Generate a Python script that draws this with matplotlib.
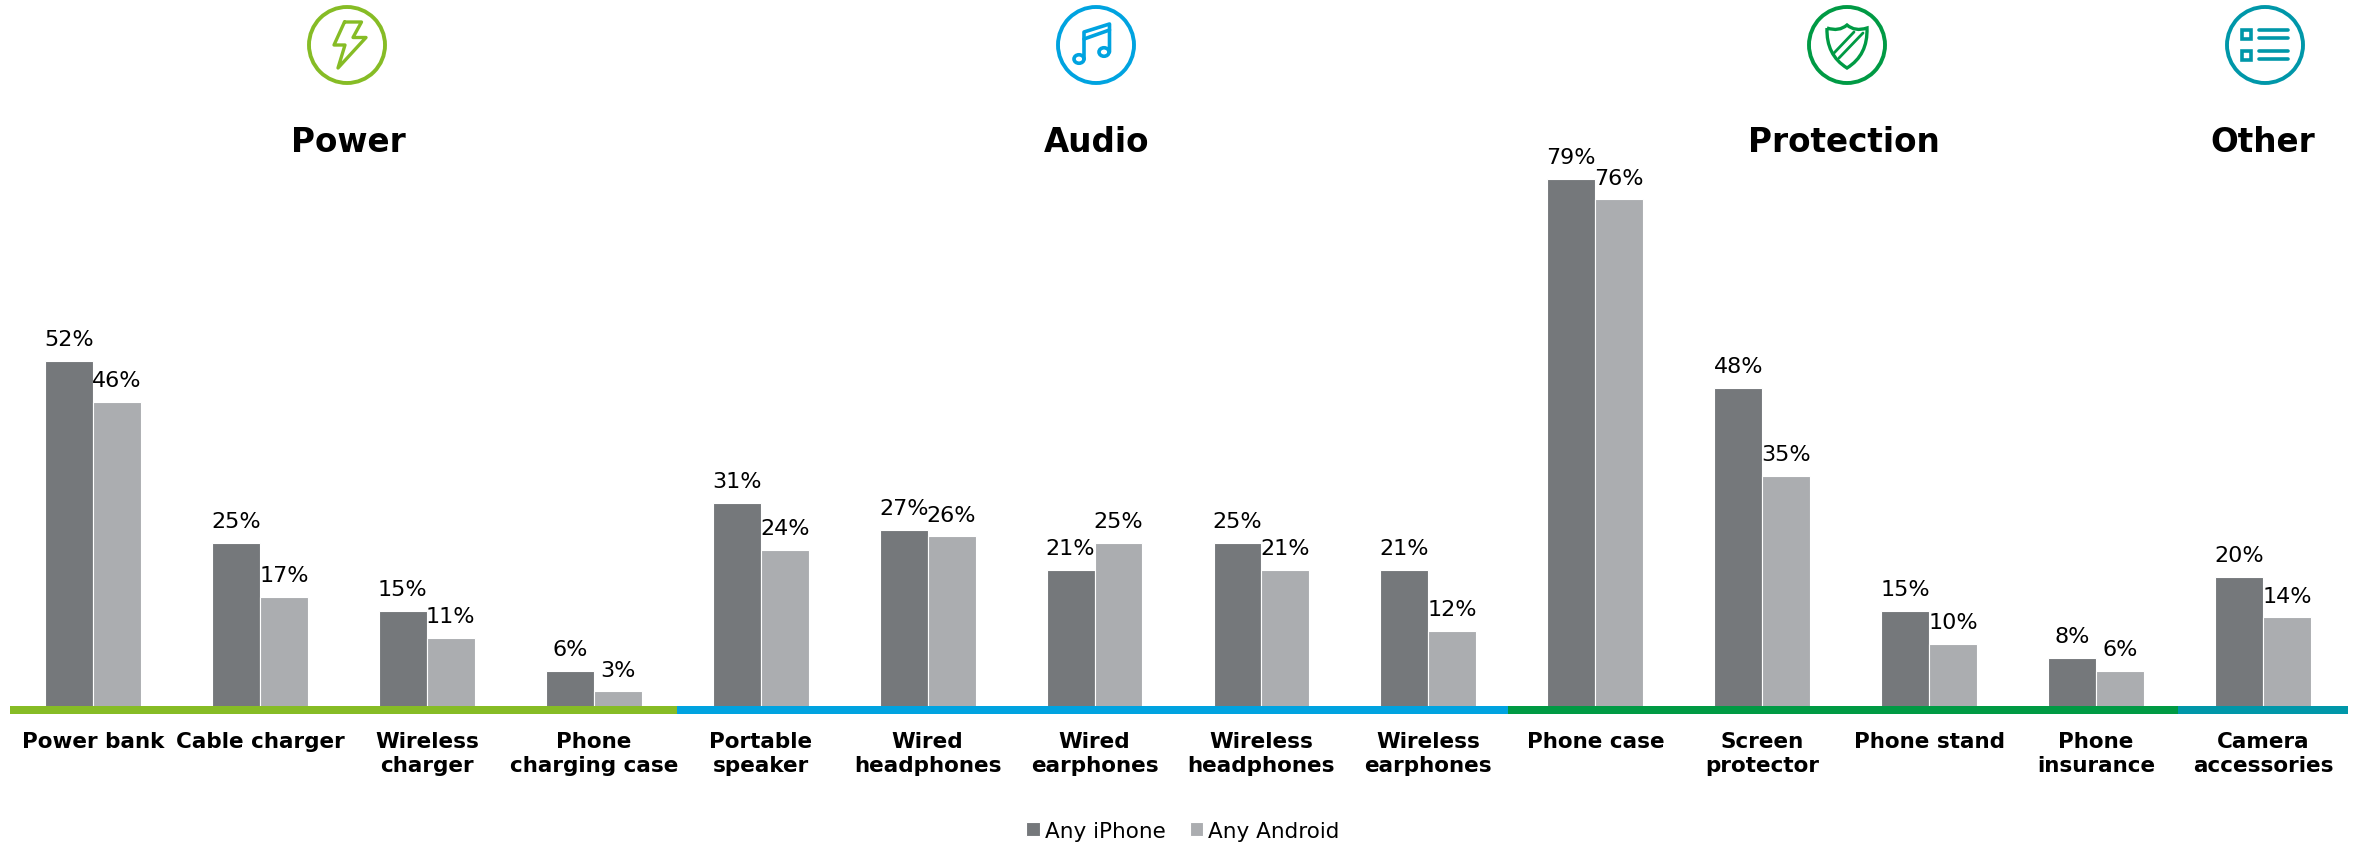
import numpy as np
import matplotlib
matplotlib.use("Agg")
import matplotlib.pyplot as plt
from matplotlib.patches import Circle, Ellipse, PathPatch, Rectangle
from matplotlib.path import Path

W, H = 2354, 845

categories = ["Power bank", "Cable charger", "Wireless\ncharger", "Phone\ncharging case",
              "Portable\nspeaker", "Wired\nheadphones", "Wired\nearphones",
              "Wireless\nheadphones", "Wireless\nearphones", "Phone case",
              "Screen\nprotector", "Phone stand", "Phone\ninsurance", "Camera\naccessories"]
iphone = [52, 25, 15, 6, 31, 27, 21, 25, 21, 79, 48, 15, 8, 20]
android = [46, 17, 11, 3, 24, 26, 25, 21, 12, 76, 35, 10, 6, 14]

groups = ["Power", "Audio", "Protection", "Other"]
group_colors = ["#86BC25", "#00A3E0", "#009A44", "#0097A9"]
band_edges = [10, 677, 1508, 2178, 2348]
icon_x = [347, 1096, 1847, 2265]
title_x = [348, 1097, 1844, 2263]

DARK = "#75787B"
LIGHT = "#ABADB0"

fig = plt.figure(figsize=(W / 100, H / 100), dpi=100)

# zero sits in the middle of the coloured band, which is painted over the bar feet
zero_y = 712.7
ax = fig.add_axes([9.5 / W, (H - zero_y) / H, 2337 / W, zero_y / H])
x = np.arange(len(categories))
bw = 0.287
b1 = ax.bar(x - bw / 2, iphone, bw, color=DARK, edgecolor="white", linewidth=0.8, label="Any iPhone")
b2 = ax.bar(x + bw / 2, android, bw, color=LIGHT, edgecolor="white", linewidth=0.8, label="Any Android")
ax.set_xlim(-0.5, len(categories) - 0.5)
ax.set_ylim(0, zero_y / 6.74)
for s in ax.spines.values():
    s.set_visible(False)
ax.set_yticks([])
ax.set_xticks(x)
ax.set_xticklabels(categories, fontsize=15.5, fontweight="bold", linespacing=1.27)
ax.tick_params(axis="x", length=0, pad=14)

for rects in (b1, b2):
    ax.bar_label(rects, fmt="%d%%", padding=8.5, fontsize=16, color="black")

leg = ax.legend(loc="lower center", bbox_to_anchor=(1183 / W, -0.009), bbox_transform=fig.transFigure,
                ncol=2, frameon=False, fontsize=15.5, handlelength=0.62, handleheight=0.62,
                handletextpad=0.25, columnspacing=1.1, borderpad=0.0)

# overlay in pixel coordinates for the band, icons and group titles
ov = fig.add_axes([0, 0, 1, 1])
ov.set_xlim(0, W)
ov.set_ylim(H, 0)
ov.axis("off")
ov.patch.set_alpha(0)

for i, col in enumerate(group_colors):
    ov.add_patch(Rectangle((band_edges[i], 707), band_edges[i + 1] - band_edges[i], 8,
                           facecolor=col, edgecolor="none"))

for name, tx, col, ix in zip(groups, title_x, group_colors, icon_x):
    ov.text(tx, 142, name, ha="center", va="center", fontsize=23.5, fontweight="bold", color="black")
    ov.add_patch(Circle((ix, 46), 38, fill=False, edgecolor=col, linewidth=2.8))


def poly(cx, cy, pts, col, lw=2.4, closed=False):
    pts = np.array(pts, dtype=float)
    if closed:
        pts = np.vstack([pts, pts[0]])
    ov.plot(cx + pts[:, 0], cy + pts[:, 1], color=col, linewidth=lw,
            solid_joinstyle="round", solid_capstyle="round")


# lightning bolt
poly(347, 46, [(-2.5, -23), (14.5, -23), (6, -7.5), (19, -7.5), (-9, 23), (-2, 0), (-13, 0)],
     group_colors[0], closed=True)

# music note
cx, cy = 1096, 46
c = group_colors[1]
poly(cx, cy, [(-12, 14), (-12, -13), (13.5, -21), (13.5, 7)], c, lw=2.6)
poly(cx, cy, [(-12, -6), (13.5, -15)], c, lw=2.6)
ov.add_patch(Ellipse((cx - 17, cy + 14), 10, 8.5, fill=False, edgecolor=c, linewidth=2.6))
ov.add_patch(Ellipse((cx + 8, cy + 7), 10, 8.5, fill=False, edgecolor=c, linewidth=2.6))

# shield with diagonal stripes
cx, cy = 1847, 46
c = group_colors[2]
codes = [Path.MOVETO, Path.CURVE3, Path.LINETO, Path.LINETO, Path.CURVE3, Path.LINETO,
         Path.CURVE3, Path.LINETO, Path.CURVE3, Path.LINETO]
verts = [(-20, -17), (-8, -13), (0, -20), (0, -20), (8, -13), (20, -17),
         (21, 10), (0, 23), (-21, 10), (-20, -17)]
shield = Path([(cx + a, cy + b) for a, b in verts], codes)
ov.add_patch(PathPatch(shield, fill=False, edgecolor=c, linewidth=2.4))
poly(cx, cy, [(-13, 8), (7, -13)], c, lw=2.0)
poly(cx, cy, [(-8, 13), (16, -12)], c, lw=2.0)

# list with two checkboxes
cx, cy = 2265, 46
c = group_colors[3]
for dy in (-11, 10):
    ov.add_patch(Rectangle((cx - 23, cy + dy - 4), 9, 9, fill=False, edgecolor=c, linewidth=2.6))
    poly(cx, cy, [(-6, dy - 4), (23, dy - 4)], c, lw=2.6)
    poly(cx, cy, [(-6, dy + 4), (23, dy + 4)], c, lw=2.6)

fig.savefig("out.png", dpi=100)
